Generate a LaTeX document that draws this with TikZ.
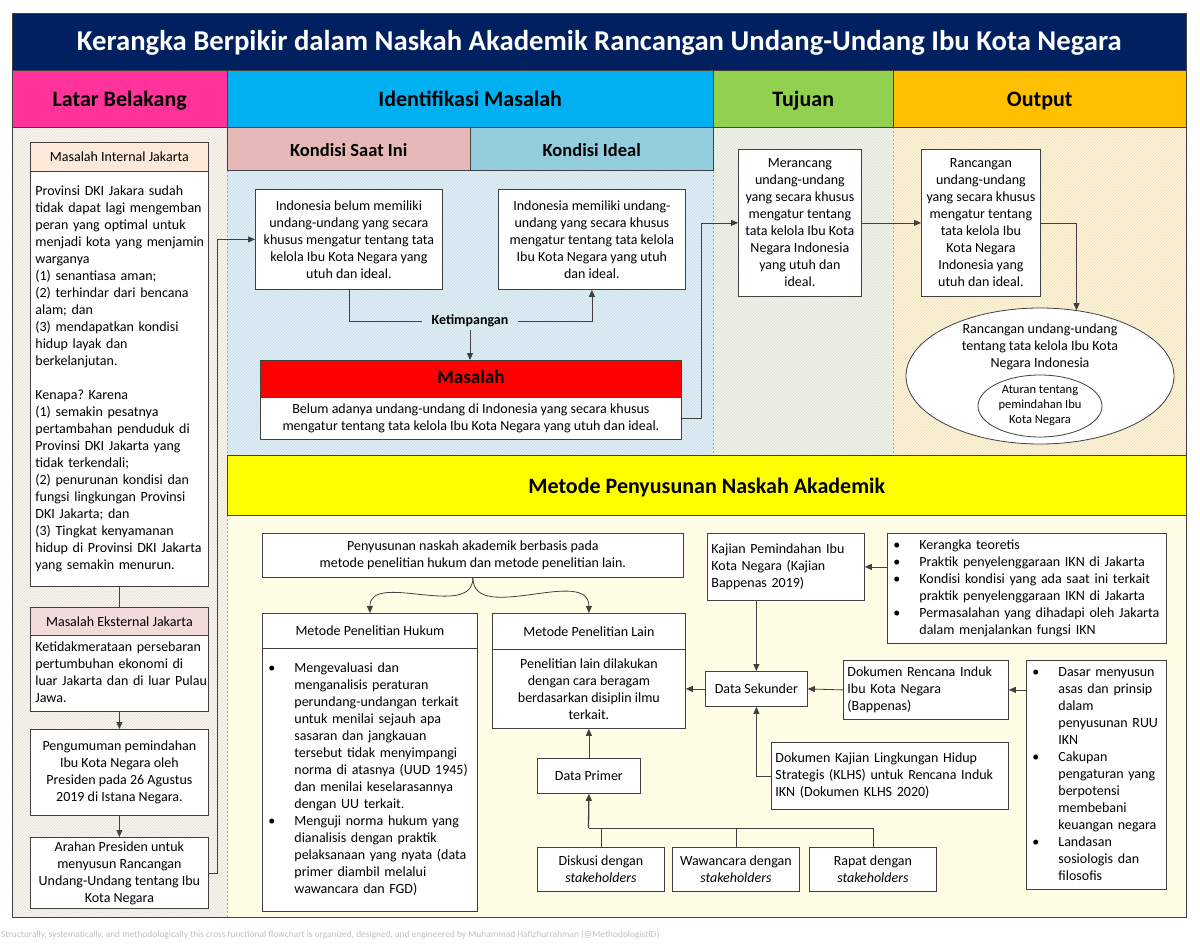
\documentclass[tikz,border=0pt]{standalone}
\usepackage{fontspec}
\setmainfont{Carlito}
\usetikzlibrary{arrows.meta,shapes.geometric,patterns,positioning}
\frenchspacing

\definecolor{navyc}{HTML}{002060}
\definecolor{pinkc}{HTML}{FF3399}
\definecolor{cyanc}{HTML}{00B0F0}
\definecolor{greenc}{HTML}{92D050}
\definecolor{goldc}{HTML}{FFC000}
\definecolor{yellowc}{HTML}{FFFF00}
\definecolor{saatc}{HTML}{E6B9B8}
\definecolor{idealc}{HTML}{93CDDD}
\definecolor{redc}{HTML}{FF0000}
\definecolor{peachc}{HTML}{FDE9D9}
\definecolor{rosec}{HTML}{F2DCDB}
\definecolor{linec}{HTML}{404040}
\definecolor{sepc}{HTML}{A6A6A6}
\definecolor{latarbg}{HTML}{FBF7F1}
\definecolor{latarht}{HTML}{E6DCCF}
\definecolor{idbg}{HTML}{E3F0F6}
\definecolor{idht}{HTML}{C3DBE8}
\definecolor{tjbg}{HTML}{F2F4EC}
\definecolor{tjht}{HTML}{D9DECD}
\definecolor{outbg}{HTML}{FFF6DD}
\definecolor{outht}{HTML}{ECDDB6}
\definecolor{metbg}{HTML}{FFFDE6}
\definecolor{footc}{HTML}{BFBFBF}

\newcommand{\bodyfont}{\fontsize{14}{17}\selectfont}
\newcommand{\boxlines}[1]{\begin{tabular}{@{}l@{}}#1\end{tabular}}
\newcommand{\bul}{\makebox[26pt][l]{\textbullet}}

\tikzset{
  hd/.style={anchor=north west, draw=linec, inner sep=0pt, text height=18pt, text depth=2pt,
    font=\fontsize{22}{26}\selectfont\bfseries},
  subhd/.style={hd, text height=15pt, text depth=0pt, font=\fontsize{18.5}{22}\selectfont\bfseries},
  box/.style={anchor=north west, draw=linec, fill=white, line width=0.8pt, inner sep=4pt, align=center, font=\bodyfont},
  lbox/.style={box, align=left, inner xsep=5pt},
  conn/.style={draw=linec, line width=0.8pt},
  arr/.style={conn, -{Triangle[length=7pt,width=6pt]}},
  sep/.style={draw=sepc, line width=0.6pt, dash pattern=on 2pt off 2pt}
}

\begin{document}
\begin{tikzpicture}[x=1pt,y=-1pt]
\useasboundingbox (0,0) rectangle (1200,943);

% column backgrounds
\fill[latarbg] (12,127) rectangle (227,917);
\fill[pattern=north east lines, pattern color=latarht] (12,127) rectangle (227,917);
\fill[idbg] (227,170) rectangle (713,455);
\fill[pattern=north east lines, pattern color=idht] (227,170) rectangle (713,455);
\fill[tjbg] (713,127) rectangle (893,455);
\fill[pattern=north east lines, pattern color=tjht] (713,127) rectangle (893,455);
\fill[outbg] (893,127) rectangle (1186,455);
\fill[pattern=north east lines, pattern color=outht] (893,127) rectangle (1186,455);
\fill[metbg] (227,515) rectangle (1186,917);
\draw[sep] (227,127) -- (227,917);
\draw[sep] (713,127) -- (713,455);
\draw[sep] (893,127) -- (893,455);

% title and lane headers
\node[anchor=north west, fill=navyc, inner sep=0pt, minimum width=1174pt, minimum height=57pt,
  text height=20pt, text depth=2pt, text=white, font=\fontsize{28.7}{32}\selectfont\bfseries] (judul) at (12,13)
  {Kerangka Berpikir dalam Naskah Akademik Rancangan Undang-Undang Ibu Kota Negara};
\node[hd, fill=pinkc, minimum width=215pt, minimum height=57pt] (latar) at (12,70) {Latar Belakang};
\node[hd, fill=cyanc, minimum width=486pt, minimum height=57pt] (idm) at (227,70) {Identifikasi Masalah};
\node[hd, fill=greenc, minimum width=180pt, minimum height=57pt] (tujuanhd) at (713,70) {Tujuan};
\node[hd, fill=goldc, minimum width=293pt, minimum height=57pt] (outhd) at (893,70) {Output};
\node[subhd, fill=saatc, minimum width=243pt, minimum height=43pt] (saat) at (227,127) {Kondisi Saat Ini};
\node[subhd, fill=idealc, minimum width=243pt, minimum height=43pt] (idealhd) at (470,127) {Kondisi Ideal};
\node[hd, fill=yellowc, minimum width=959pt, minimum height=60pt] (metode) at (227,455) {Metode Penyusunan Naskah Akademik};

% latar belakang
\node[box, fill=peachc, minimum width=178pt, minimum height=29pt] (inthd) at (30,142) {Masalah Internal Jakarta};
\node[lbox, minimum width=178pt, minimum height=415pt, text width=168pt] (intbody) at (30,171)
  {\boxlines{Provinsi DKI Jakara sudah\\tidak dapat lagi mengemban\\peran yang optimal untuk\\
  menjadi kota yang menjamin\\warganya\\(1) senantiasa aman;\\(2) terhindar dari bencana\\alam; dan\\
  (3) mendapatkan kondisi\\hidup layak dan\\berkelanjutan.\\ \\Kenapa? Karena\\(1) semakin pesatnya\\
  pertambahan penduduk di\\Provinsi DKI Jakarta yang\\tidak terkendali;\\(2) penurunan kondisi dan\\
  fungsi lingkungan Provinsi\\DKI Jakarta; dan\\(3) Tingkat kenyamanan\\hidup di Provinsi DKI Jakarta\\
  yang semakin menurun.}};
\node[box, fill=rosec, minimum width=178pt, minimum height=28pt] (exthd) at (30,607) {Masalah Eksternal Jakarta};
\node[lbox, minimum width=178pt, minimum height=72pt, text width=168pt] (extbody) at (30,635)
  {\boxlines{Ketidakmerataan persebaran\\pertumbuhan ekonomi di\\luar Jakarta dan di luar Pulau\\Jawa.}};
\node[box, minimum width=178pt, minimum height=86pt] (umum) at (30,729)
  {Pengumuman pemindahan\\Ibu Kota Negara oleh\\Presiden pada 26 Agustus\\2019 di Istana Negara.};
\node[box, minimum width=178pt, minimum height=71pt] (arahan) at (30,837)
  {Arahan Presiden untuk\\menyusun Rancangan\\Undang-Undang tentang Ibu\\Kota Negara};

% identifikasi masalah
\node[box, minimum width=187pt, minimum height=100pt] (kini) at (255,189)
  {Indonesia belum memiliki\\undang-undang yang secara\\khusus mengatur tentang tata\\kelola Ibu Kota Negara yang\\utuh dan ideal.};
\node[box, minimum width=187pt, minimum height=100pt] (ideal) at (498,189)
  {Indonesia memiliki undang-\\undang yang secara khusus\\mengatur tentang tata kelola\\Ibu Kota Negara yang utuh\\dan ideal.};
\node[font=\bodyfont\bfseries, inner xsep=9pt, inner ysep=3pt] (timpang) at (470,321) {Ketimpangan};
\node[box, fill=redc, minimum width=421pt, minimum height=37pt, text height=13pt, text depth=3pt,
  font=\fontsize{19}{22}\selectfont\bfseries] (masalah) at (260,360) {Masalah};
\node[box, minimum width=421pt, minimum height=42pt] (masbody) at (260,397)
  {Belum adanya undang-undang di Indonesia yang secara khusus\\mengatur tentang tata kelola Ibu Kota Negara yang utuh dan ideal.};

% tujuan dan output
\node[box, minimum width=123pt, minimum height=147pt] (tujuan) at (738,149)
  {Merancang\\undang-undang\\yang secara khusus\\mengatur tentang\\tata kelola Ibu Kota\\Negara Indonesia\\yang utuh dan\\ideal.};
\node[box, minimum width=119pt, minimum height=147pt] (rancang) at (921,149)
  {Rancangan\\undang-undang\\yang secara khusus\\mengatur tentang\\tata kelola Ibu\\Kota Negara\\Indonesia yang\\utuh dan ideal.};
\node[draw=linec, fill=white, line width=0.8pt, ellipse, minimum width=268pt, minimum height=136pt] (ruu) at (1040,376) {};
\node[font=\bodyfont, align=center] (ruutext) at (1040,347)
  {Rancangan undang-undang\\tentang tata kelola Ibu Kota\\Negara Indonesia};
\node[draw=linec, fill=white, line width=0.8pt, ellipse, inner sep=0pt, minimum width=124pt, minimum height=62pt,
  align=center, font=\fontsize{12.5}{15}\selectfont] (aturan) at (1040,406)
  {Aturan tentang\\pemindahan Ibu\\Kota Negara};

% metode penyusunan
\node[box, minimum width=421pt, minimum height=44pt] (susun) at (262,533)
  {Penyusunan naskah akademik berbasis pada\\metode penelitian hukum dan metode penelitian lain.};
\node[box, minimum width=215pt, minimum height=35pt] (hukumhd) at (262,613) {Metode Penelitian Hukum};
\node[lbox, inner xsep=6pt, minimum width=215pt, minimum height=263pt, text width=203pt] (hukum) at (262,648)
  {\begin{tabular}{@{}l@{}l@{}}
  \bul & Mengevaluasi dan\\ & menganalisis peraturan\\ & perundang-undangan terkait\\
  & untuk menilai sejauh apa\\ & sasaran dan jangkauan\\ & tersebut tidak menyimpangi\\
  & norma di atasnya (UUD 1945)\\ & dan menilai keselarasannya\\ & dengan UU terkait.\\
  \bul & Menguji norma hukum yang\\ & dianalisis dengan praktik\\ & pelaksanaan yang nyata (data\\
  & primer diambil melalui\\ & wawancara dan FGD)
  \end{tabular}};
\node[box, minimum width=193pt, minimum height=36pt] (lainhd) at (492,613) {Metode Penelitian Lain};
\node[box, minimum width=193pt, minimum height=79pt] (lain) at (492,649)
  {Penelitian lain dilakukan\\dengan cara beragam\\berdasarkan disiplin ilmu\\terkait.};
\node[box, minimum width=103pt, minimum height=35pt] (primer) at (537,758) {Data Primer};
\node[box, minimum width=127pt, minimum height=44pt] (diskusi) at (537,847) {Diskusi dengan\\\textit{stakeholders}};
\node[box, minimum width=127pt, minimum height=44pt] (wawancara) at (672,847) {Wawancara dengan\\\textit{stakeholders}};
\node[box, minimum width=127pt, minimum height=44pt] (rapat) at (809,847) {Rapat dengan\\\textit{stakeholders}};
\node[box, minimum width=102pt, minimum height=35pt] (sekunder) at (705,671) {Data Sekunder};
\node[lbox, inner xsep=4pt, minimum width=157pt, minimum height=67pt, text width=149pt] (kajian) at (707,533)
  {\boxlines{Kajian Pemindahan Ibu\\Kota Negara (Kajian\\Bappenas 2019)}};
\node[lbox, inner xsep=6pt, minimum width=279pt, minimum height=109pt, text width=267pt] (teori) at (887,533)
  {\begin{tabular}{@{}l@{}l@{}}
  \bul & Kerangka teoretis\\ \bul & Praktik penyelenggaraan IKN di Jakarta\\
  \bul & Kondisi kondisi yang ada saat ini terkait\\ & praktik penyelenggaraan IKN di Jakarta\\
  \bul & Permasalahan yang dihadapi oleh Jakarta\\ & dalam menjalankan fungsi IKN
  \end{tabular}};
\node[lbox, inner xsep=4pt, minimum width=165pt, minimum height=57pt, text width=157pt] (rencana) at (843,660)
  {\boxlines{Dokumen Rencana Induk\\Ibu Kota Negara\\(Bappenas)}};
\node[lbox, inner xsep=6pt, minimum width=140pt, minimum height=229pt, text width=128pt] (dasar) at (1026,660)
  {\begin{tabular}{@{}l@{}l@{}}
  \bul & Dasar menyusun\\ & asas dan prinsip\\ & dalam\\ & penyusunan RUU\\ & IKN\\
  \bul & Cakupan\\ & pengaturan yang\\ & berpotensi\\ & membebani\\ & keuangan negara\\
  \bul & Landasan\\ & sosiologis dan\\ & filosofis
  \end{tabular}};
\node[lbox, inner xsep=4pt, minimum width=237pt, minimum height=67pt, text width=229pt] (klhs) at (771,742)
  {\boxlines{Dokumen Kajian Lingkungan Hidup\\Strategis (KLHS) untuk Rencana Induk\\IKN (Dokumen KLHS 2020)}};

% connectors
\draw[conn] (intbody.south) -- (exthd.north);
\draw[arr] (extbody.south) -- (umum.north);
\draw[arr] (umum.south) -- (arahan.north);
\draw[arr] (arahan.east) -- ++(9,0) |- (kini.west);
\draw[conn] (kini.south) |- (timpang.west);
\draw[arr] (timpang.east) -| (ideal.south);
\draw[arr] (timpang.south) -- (timpang.south |- masalah.north);
\draw[arr] (masbody.east) -- ++(20,0) |- (tujuan.west);
\draw[arr] (tujuan.east) -- (rancang.west);
\draw[arr] (rancang.east) -| (ruu.61);

\draw[arr] (susun.south) to[out=-90,in=90] (hukumhd.north);
\draw[arr] (susun.south) to[out=-90,in=90] (lainhd.north);
\draw[arr] (primer.north) -- (lain.south);
\coordinate (hub) at (588.5,828);
\draw[conn] (rapat.north) |- (hub);
\draw[conn] (diskusi.north) -- (diskusi.north |- hub);
\draw[conn] (wawancara.north) -- (wawancara.north |- hub);
\draw[arr, line width=1.3pt] (hub) -- (primer.south);
\draw[arr] (sekunder.west) -- (lain.east);
\draw[arr] (kajian.south -| sekunder.north) -- (sekunder.north);
\draw[arr] (teori.west |- kajian.east) -- (kajian.east);
\draw[arr] (rencana.west) -- (sekunder.east);
\draw[arr] (dasar.west |- rencana.east) -- (rencana.east);
\draw[arr] (klhs.west) -| (sekunder.south);

% frame and credit
\draw[linec, line width=0.8pt] (12,13) rectangle (1186,917);
\node[anchor=west, inner sep=0pt, text=footc, font=\fontsize{9.4}{11}\selectfont] (kredit) at (1,935)
  {Structurally, systematically, and methodologically this cross functional flowchart is organized, designed, and engineered by Muhammad Hafizhurrahman (@MethodologistID)};
\end{tikzpicture}
\end{document}
